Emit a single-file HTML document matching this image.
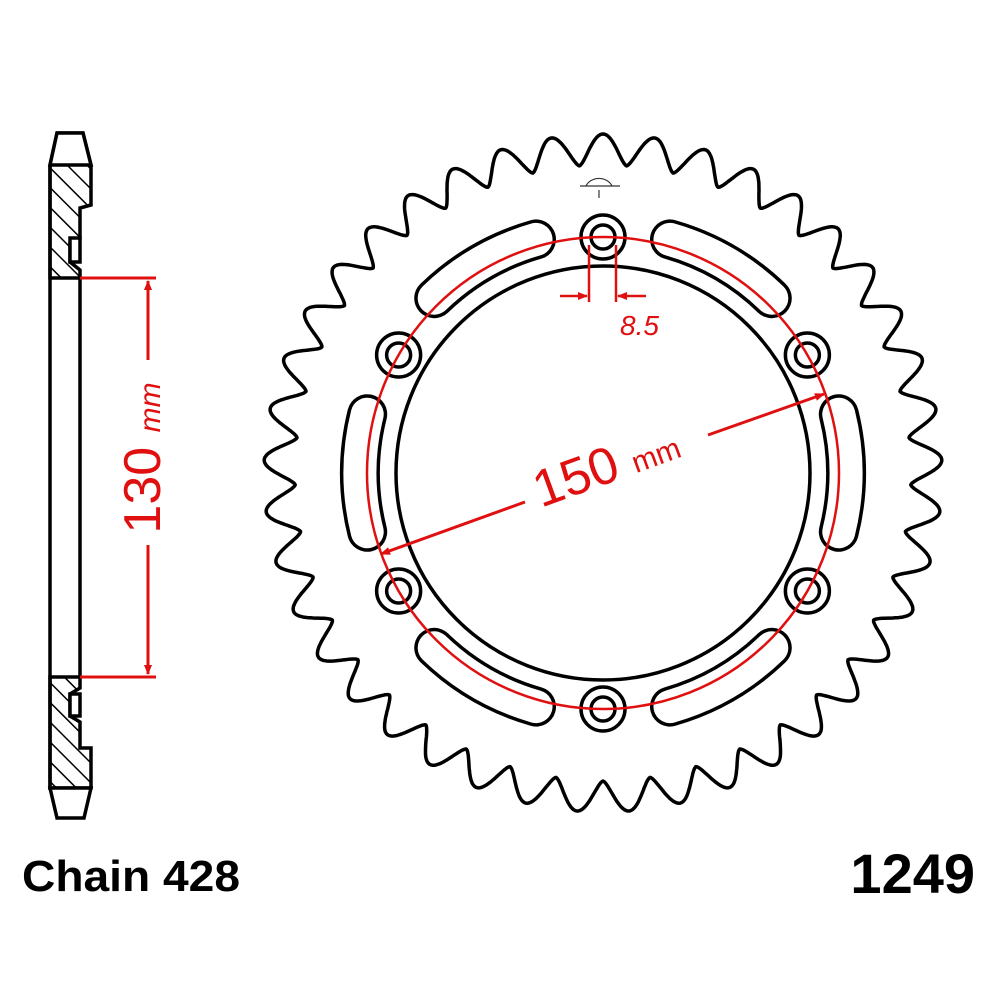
<!DOCTYPE html>
<html><head><style>
body{margin:0;background:#fff;width:1000px;height:1000px;overflow:hidden}
svg{display:block}
</style></head><body>
<svg id="s" width="1000" height="1000" viewBox="0 0 1000 1000" xmlns="http://www.w3.org/2000/svg">
<defs>
<pattern id="h" patternUnits="userSpaceOnUse" width="14" height="14" patternTransform="rotate(-45)">
<line x1="0" y1="0" x2="0" y2="14" stroke="#000" stroke-width="3"/></pattern>
<marker id="a" markerWidth="10" markerHeight="8" refX="9" refY="4" orient="auto" markerUnits="userSpaceOnUse"><path d="M0,0 L10,4 L0,8 z" fill="#e01010"/></marker>
</defs>
<g id="teeth"></g>
<g id="slots"></g>
<circle cx="603" cy="473" r="207" fill="none" stroke="#000" stroke-width="3.5"/>
<g id="holes"></g>
<!-- side view -->
<g stroke="#000" stroke-width="3.5" fill="none">
<path d="M57,133 L83,133 L91,165 L91,205 L80,208 L80,238 L70,243 L70,262 L80,270 L80,278 L50,278 L50,165 Z" fill="url(#h)"/>
<path d="M57,133 L83,133 L91,165 L50,165 Z" fill="#fff"/>
<path d="M70,238 L80,238 L80,262 L70,262 Z" fill="#fff"/>
<line x1="50" y1="165" x2="50" y2="790"/>
<line x1="80" y1="278" x2="80" y2="677"/>
<path d="M50,677 L80,677 L80,688 L70,694 L70,716 L80,722 L80,748 L91,748 L91,788 L50,788 Z" fill="url(#h)"/>
<path d="M70,694 L80,694 L80,716 L70,716 Z" fill="#fff"/>
<path d="M50,788 L91,788 L84,818 L57,818 Z" fill="#fff"/>
</g>
<g stroke="#e01010" stroke-width="3" fill="none">
<line x1="80" y1="278" x2="156" y2="278"/>
<line x1="80" y1="677" x2="156" y2="677"/>
<line x1="148" y1="360" x2="148" y2="281" marker-end="url(#a)"/>
<line x1="148" y1="545" x2="148" y2="674" marker-end="url(#a)"/>
<circle cx="603" cy="473" r="236" stroke-width="2.5"/>
<line x1="589" y1="245" x2="589" y2="302" stroke-width="2.5"/>
<line x1="616" y1="245" x2="616" y2="302" stroke-width="2.5"/>
<line x1="560" y1="296" x2="587" y2="296" marker-end="url(#a)" stroke-width="2.5"/>
<line x1="646" y1="296" x2="618" y2="296" marker-end="url(#a)" stroke-width="2.5"/>
<line x1="525" y1="502" x2="381" y2="554" marker-end="url(#a)"/>
<line x1="708" y1="435" x2="824" y2="394" marker-end="url(#a)"/>
</g>
<text transform="translate(160,458) rotate(-90)" text-anchor="middle" font-family="Liberation Sans,sans-serif" fill="#e01010" font-size="52">130 <tspan font-size="30" font-style="italic">mm</tspan></text>
<text transform="translate(612,482) rotate(-20)" text-anchor="middle" font-family="Liberation Sans,sans-serif" fill="#e01010" font-size="52">150 <tspan font-size="30">mm</tspan></text>
<text x="620" y="335" font-family="Liberation Sans,sans-serif" font-style="italic" fill="#e01010" font-size="28">8.5</text>
<g stroke="#333" stroke-width="1.2" fill="none">
<path d="M586,186 A14,12 0 0 1 612,186"/><line x1="580" y1="186" x2="620" y2="186"/>
<line x1="599" y1="190" x2="599" y2="198"/>
</g>
<text x="22" y="891" font-family="Liberation Sans,sans-serif" font-weight="bold" font-size="44" textLength="218" lengthAdjust="spacingAndGlyphs">Chain 428</text>
<text x="975" y="893" text-anchor="end" font-family="Liberation Sans,sans-serif" font-weight="bold" font-size="56">1249</text>
</svg>
<script>
var cx=603,cy=473,N=41,Rt=339,Rr=308,NS="http://www.w3.org/2000/svg";
function f(u){var c=Math.cos(2*Math.PI*u);return Math.pow((1+c)/2,0.75);}
var d="",M=N*40;
for(var i=0;i<=M;i++){var t=i/M,ph=t*N,fr=ph-Math.round(ph),u=Math.abs(fr);var r=Rr+(Rt-Rr)*f(u);var a=-Math.PI/2+t*2*Math.PI;var x=cx+r*Math.cos(a),y=cy+r*Math.sin(a);d+=(i?"L":"M")+x.toFixed(1)+","+y.toFixed(1);}
var p=document.createElementNS(NS,"path");p.setAttribute("d",d+"Z");p.setAttribute("fill","#fff");p.setAttribute("stroke","#000");p.setAttribute("stroke-width","3.5");p.setAttribute("stroke-linejoin","round");document.getElementById("teeth").appendChild(p);
var sg=document.getElementById("slots"),rs=243,ha=14*Math.PI/180;
[0,60,120,180,240,300].forEach(function(deg){var c=-deg*Math.PI/180;var x1=cx+rs*Math.cos(c-ha),y1=cy+rs*Math.sin(c-ha),x2=cx+rs*Math.cos(c+ha),y2=cy+rs*Math.sin(c+ha);var dd="M"+x1+","+y1+" A"+rs+","+rs+" 0 0 1 "+x2+","+y2;
[["#000",40],["#fff",33]].forEach(function(s){var q=document.createElementNS(NS,"path");q.setAttribute("d",dd);q.setAttribute("fill","none");q.setAttribute("stroke",s[0]);q.setAttribute("stroke-width",s[1]);q.setAttribute("stroke-linecap","round");sg.appendChild(q);});});
var hg=document.getElementById("holes");
[90,30,-30,-90,-150,150].forEach(function(deg){var c=-deg*Math.PI/180,x=cx+236*Math.cos(c),y=cy+236*Math.sin(c);
[[22],[12]].forEach(function(r){var e=document.createElementNS(NS,"circle");e.setAttribute("cx",x);e.setAttribute("cy",y);e.setAttribute("r",r[0]);e.setAttribute("fill","#fff");e.setAttribute("stroke","#000");e.setAttribute("stroke-width","3.5");hg.appendChild(e);});});
</script>
</body></html>
